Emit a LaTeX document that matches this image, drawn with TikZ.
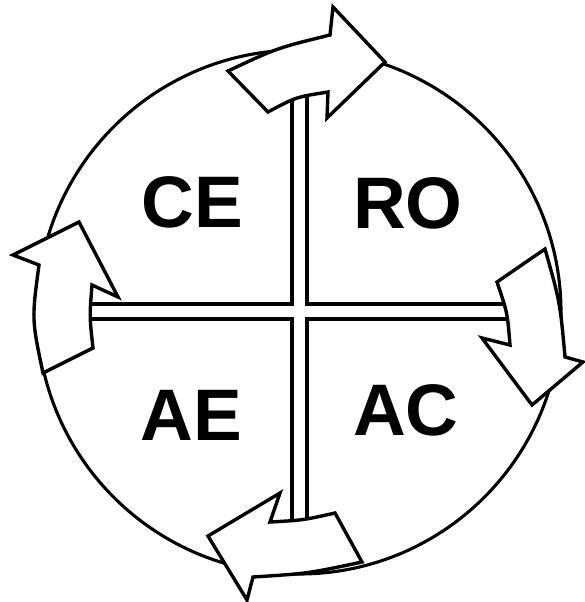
\documentclass[tikz,border=0pt]{standalone}
\usepackage{fontspec}
\setmainfont{Liberation Sans}
\begin{document}
\begin{tikzpicture}[x=1pt,y=-1pt,
  ring/.style={line width=3.1pt},
  strip/.style={line width=3.1pt},
  blockarrow/.style={line width=3.4pt,fill=white,line join=miter},
  lbl/.style={font=\fontsize{73}{80}\selectfont\bfseries,anchor=base,inner sep=0pt}]
\useasboundingbox (0,0) rectangle (584,602);
% circle
\node[circle,ring,draw,minimum size=524pt,inner sep=0pt] (ring) at (299,312) {};
% cross strips
\coordinate (vtl) at (292,95);  \coordinate (vtr) at (307,95);
\coordinate (vbl) at (292,530); \coordinate (vbr) at (307,530);
\coordinate (hlt) at (85,304);  \coordinate (hlb) at (85,319);
\coordinate (hrt) at (512,304); \coordinate (hrb) at (512,319);
\coordinate (ctl) at (292,304); \coordinate (ctr) at (307,304);
\coordinate (cbl) at (292,319); \coordinate (cbr) at (307,319);
\draw[strip] (vtl) -- (ctl) -- (hlt);
\draw[strip] (vtr) -- (ctr) -- (hrt);
\draw[strip] (vbl) -- (cbl) -- (hlb);
\draw[strip] (vbr) -- (cbr) -- (hrb);
% top arrow
\draw[blockarrow] (228,71) .. controls (277,48) .. (330,35) -- (333,7) -- (385,62)
  -- (327,118) -- (328,92) .. controls (296,97) .. (268,112) -- cycle;
% right arrow
\draw[blockarrow] (545,249) .. controls (560,302) .. (565,357) -- (583,362) -- (532,405)
  -- (482,338) -- (510,345) .. controls (507.4,312.7) .. (497,282) -- cycle;
% bottom arrow
\draw[blockarrow] (362,562) .. controls (308,573.5) .. (253,577) -- (247,600) -- (208,536)
  -- (280,493) -- (270,522) .. controls (303,520.2) .. (335,513) -- cycle;
% left arrow
\draw[blockarrow] (43,373) .. controls (31.7,319.3) .. (39,265) -- (13,255) -- (79,222)
  -- (118,297) -- (92,285) .. controls (89.5,316.5) .. (93,348) -- cycle;
% labels
\node[lbl] (ce) at (192.5,227.5) {CE};
\node[lbl] (ro) at (408,228) {RO};
\node[lbl] (ae) at (191,440) {AE};
\node[lbl] (ac) at (406,435) {AC};
\end{tikzpicture}
\end{document}
